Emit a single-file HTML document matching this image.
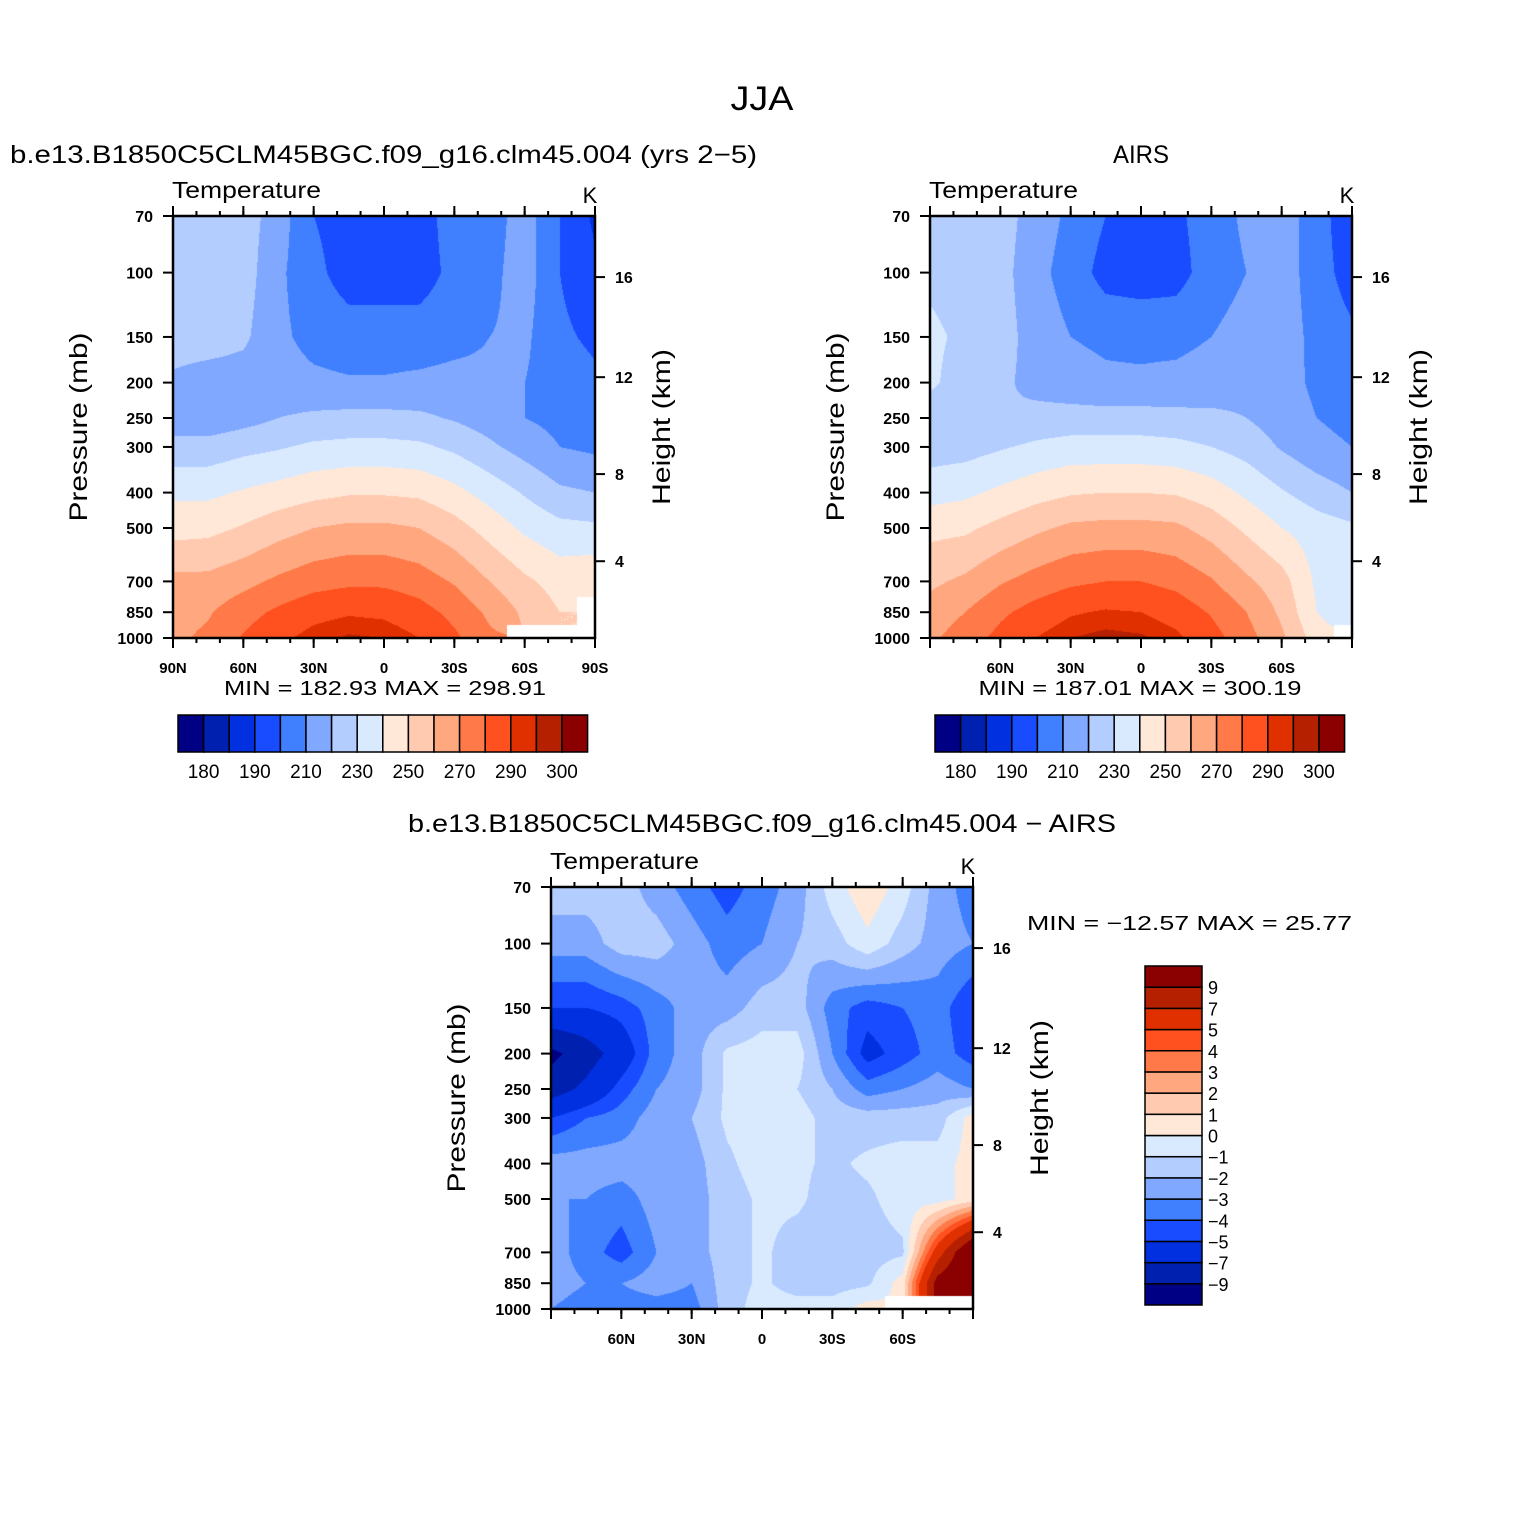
<!DOCTYPE html>
<html><head><meta charset="utf-8">
<style>
body{margin:0;background:#fff;width:1524px;height:1524px;overflow:hidden;position:relative;font-family:"Liberation Sans",sans-serif}
canvas{position:absolute}
svg{position:absolute;left:0;top:0}
</style></head>
<body>
<canvas id="c1" width="422" height="422" style="left:173px;top:216px"></canvas>
<canvas id="c2" width="422" height="422" style="left:930px;top:216px"></canvas>
<canvas id="c3" width="422" height="422" style="left:551px;top:887px"></canvas>
<svg id="ov" width="1524" height="1524"></svg>
<script>
const lats=[90,75,60,45,30,15,0,-15,-30,-45,-60,-75,-90];
const pres=[70,100,150,200,250,300,400,500,700,850,1000];
const tempLevels=[180,185,190,200,210,220,230,240,250,260,270,280,290,295,300];
const tempTickLabels=["180","190","210","230","250","270","290","300"];
const diffLevels=[-9,-7,-5,-4,-3,-2,-1,0,1,2,3,4,5,7,9];
const colors=["#000084","#0020b0","#0030e0","#1a4cff","#4080ff","#80a8ff","#b3cdff","#d9eaff","#ffe8d8","#ffcab0","#ffa880","#ff7a48","#ff5020","#e03000","#b42000","#8b0000"];
const N=NaN;
const model=[
[225,225,225,215,200,195,195,195,205,205,215,200,188],
[225,225,225,212,203,195,195,195,203,207,215,200,192],
[225,225,222,212,207,205,205,205,207,210,212,202,198],
[218,215,215,214,212,211,211,212,213,212,210,205,202],
[213,213,216,220,222,223,223,222,219,215,210,207,205],
[224,224,227,229,232,233,233,232,228,222,216,210,208],
[238,238,241,244,247,249,249,248,243,236,229,222,220],
[246,247,251,256,260,262,262,260,254,246,238,233,232],
[263,263,267,272,276,278,278,275,269,260,252,246,248],
[266,269,276,282,287,289,288,284,277,268,258,250,N],
[268,272,281,288,293,296,295,290,282,272,N,N,N]];
const airs=[
[226,226,225,215,208,200,196,198,205,212,215,205,192],
[228,226,224,213,206,196,195,196,205,210,215,205,195],
[232,228,225,215,210,208,207,207,210,214,215,207,202],
[232,225,222,217,214,212,212,213,215,217,214,208,205],
[224,220,220,223,224,224,224,223,222,220,215,210,207],
[225,226,229,232,234,234,234,233,230,226,219,213,210],
[236,238,242,246,249,250,250,249,245,238,231,225,220],
[247,248,253,258,262,263,263,262,256,248,240,235,232],
[258,262,269,274,278,280,280,277,271,262,254,238,235],
[264,270,278,284,289,291,290,286,279,270,258,240,232],
[268,275,283,290,295,297,296,292,284,274,262,245,N]];
const diff=[
[-1.5,-1.5,-1.5,-2.5,-3.5,-4.5,-3.5,-2.5,-0.5,0.8,-0.5,-2.5,-3.5],
[-2.5,-2.5,-1.5,-1.5,-2.5,-3.5,-3,-2,-1.5,-0.3,-1.5,-2.5,-3],
[-5,-5,-4.5,-3.5,-2.5,-2.5,-1.5,-1.5,-3.5,-4.5,-4,-3.5,-5],
[-9.5,-8,-6,-3.5,-2.5,-0.8,-0.5,-0.5,-3,-5.5,-4.5,-3.5,-4.5],
[-8,-6.5,-4.5,-3,-2.5,-0.8,-0.5,-1,-2,-3.5,-3,-2.5,-3],
[-5,-4,-3.5,-2.5,-2,-0.8,-0.5,-0.5,-1.5,-1.5,-1.5,-1.5,0.5],
[-2.5,-2.5,-2.5,-2.5,-2.5,-1.2,-0.5,-0.8,-1.2,-0.8,-0.5,-0.5,0.5],
[-3,-3,-3.5,-2.5,-2.5,-1.5,-0.8,-0.8,-1.5,-1.2,-0.5,-0.5,0.5],
[-2.5,-3.5,-4.5,-3,-2.5,-1.5,-0.8,-1.5,-1.5,-1.5,-1.2,6,12],
[-2.5,-3,-3,-2.5,-3,-1.5,-0.8,-1.5,-1.5,-1.2,0.5,10,12],
[-3,-3.5,-3.5,-3.5,-3.5,-1.5,-0.5,-0.5,-0.5,0.5,N,N,N]];
const latTicks=[90,60,30,0,-30,-60,-90];
const heightTicks=[4,8,12,16];

const W=422,H=422,LN=Math.log(1000/70);
function yOfP(p){return H-Math.log(1000/p)/LN*H;}
function xOfLat(l){return (90-l)/180*W;}
function pOfZ(km){const z=km*1000;return z<=11000?1013.25*Math.pow(1-2.2558e-5*z,5.256):226.3*Math.exp(-(z-11000)/6341.6);}
function colorOf(v,lev){let i=0;while(i<lev.length&&v>=lev[i])i++;return colors[i];}
function hex(c){return [parseInt(c.substr(1,2),16),parseInt(c.substr(3,2),16),parseInt(c.substr(5,2),16)];}
const lnp=pres.map(p=>Math.log(p));
function drawField(id,grid,lev){
  const ctx=document.getElementById(id).getContext('2d');
  const img=ctx.createImageData(W,H);
  for(let py=0;py<H;py++){
    const lp=Math.log(1000)-(H-py-0.5)/H*LN;
    let j=0;while(j<pres.length-2&&lp>lnp[j+1])j++;
    let t=(lp-lnp[j])/(lnp[j+1]-lnp[j]);t=Math.max(0,Math.min(1,t));
    for(let px=0;px<W;px++){
      const lat=90-(px+0.5)/W*180;
      let f=(90-lat)/15;let i=Math.min(11,Math.floor(f));let s=f-i;
      const ni=s<0.5?i:i+1,nj=t<0.5?j:j+1;
      let rgb=[255,255,255];
      if(!isNaN(grid[nj][ni])){
        const cs=[[grid[j][i],(1-s)*(1-t)],[grid[j][i+1],s*(1-t)],[grid[j+1][i],(1-s)*t],[grid[j+1][i+1],s*t]];
        let sw=0,sv=0;cs.forEach(c=>{if(!isNaN(c[0])){sw+=c[1];sv+=c[0]*c[1];}});
        rgb=hex(colorOf(sv/sw,lev));
      }
      const k=(py*W+px)*4;img.data[k]=rgb[0];img.data[k+1]=rgb[1];img.data[k+2]=rgb[2];img.data[k+3]=255;
    }
  }
  ctx.putImageData(img,0,0);
}
drawField('c1',model,tempLevels);
drawField('c2',airs,tempLevels);
drawField('c3',diff,diffLevels);

const NS="http://www.w3.org/2000/svg",ov=document.getElementById('ov');
function el(tag,attrs,parent){const e=document.createElementNS(NS,tag);for(const k in attrs)e.setAttribute(k,attrs[k]);(parent||ov).appendChild(e);return e;}
function txt(x,y,s,size,anchor,name,extra){const e=el('text',Object.assign({x:x,y:y,'font-size':size,'text-anchor':anchor||'start','font-family':'Liberation Sans, sans-serif',fill:'#000'},extra||{}));e.textContent=s;


return e;}
function latLabel(l){return l===0?"0":Math.abs(l)+(l>0?"N":"S");}
function axes(ox,oy,showPoles,pref){
  const g=el('g',{});
  
  
  el('rect',{x:ox,y:oy,width:W,height:H,fill:'none',stroke:'#000','stroke-width':2.5},g);
  for(let l=-80;l<=80;l+=10){const x=ox+xOfLat(l);
    el('line',{x1:x,y1:oy,x2:x,y2:oy-5,stroke:'#000','stroke-width':2},g);
    el('line',{x1:x,y1:oy+H,x2:x,y2:oy+H+5,stroke:'#000','stroke-width':2},g);}
  latTicks.forEach(l=>{const x=ox+xOfLat(l);
    el('line',{x1:x,y1:oy,x2:x,y2:oy-10,stroke:'#000','stroke-width':2},g);
    el('line',{x1:x,y1:oy+H,x2:x,y2:oy+H+10,stroke:'#000','stroke-width':2},g);
    if(showPoles||Math.abs(l)!==90)txt(x,oy+H+35,latLabel(l),15,'middle','lat-tick-label',{'font-weight':'bold'});});
  pres.forEach(p=>{const y=oy+yOfP(p);
    el('line',{x1:ox,y1:y,x2:ox-10,y2:y,stroke:'#000','stroke-width':2},g);
    txt(ox-20,y+6,String(p),16,'end','pressure-tick-label',{'font-weight':'bold'});});
  heightTicks.forEach(z=>{const y=oy+yOfP(pOfZ(z));
    el('line',{x1:ox+W,y1:y,x2:ox+W+10,y2:y,stroke:'#000','stroke-width':2},g);
    txt(ox+W+20,y+6,String(z),16,'start','height-tick-label',{'font-weight':'bold'});});
  txt(ox-1,oy-18,"Temperature",23,'start','panel-variable-label',{textLength:149,lengthAdjust:'spacingAndGlyphs'});
  txt(ox+W-5,oy-13,"K",22,'middle','units-label');
  txt(0,0,"Pressure (mb)",25,'middle','y-axis-title',{transform:`translate(${ox-86},${oy+211}) rotate(-90)`,textLength:189,lengthAdjust:'spacingAndGlyphs'});
  txt(0,0,"Height (km)",25,'middle','y2-axis-title',{transform:`translate(${ox+W+75},${oy+211}) rotate(-90)`,textLength:156,lengthAdjust:'spacingAndGlyphs'});
}
axes(173,216,true,'model');
axes(930,216,false,'airs');
axes(551,887,false,'diff');
function hbar(x0,y0,pref){
  const bw=25.6;
  colors.forEach((c,i)=>{const r=el('rect',{x:x0+i*bw,y:y0,width:bw,height:37,fill:c,stroke:'#000','stroke-width':1.5});
    
    });
  tempTickLabels.forEach((s,k)=>txt(x0+(2*k+1)*bw,y0+63,s,19,'middle','colorbar-label'));
}
hbar(178,715,'model');hbar(935,715,'airs');
const vb=339/16;
colors.forEach((c,i)=>{const r=el('rect',{x:1145,y:966+(15-i)*vb,width:57,height:vb,fill:c,stroke:'#000','stroke-width':1.5});
  
  });
diffLevels.forEach((v,i)=>txt(1208,966+(15-i)*vb+7,(v<0?"\u2212":"")+Math.abs(v),18,'start','diff-colorbar-label'));
txt(762,110,"JJA",34,'middle','main-title',{textLength:63,lengthAdjust:'spacingAndGlyphs'});
txt(10,163,"b.e13.B1850C5CLM45BGC.f09_g16.clm45.004 (yrs 2\u22125)",25,'start','model-panel-title',{textLength:747,lengthAdjust:'spacingAndGlyphs'});
txt(1141,163,"AIRS",25,'middle','airs-panel-title',{textLength:56,lengthAdjust:'spacingAndGlyphs'});
txt(762,832,"b.e13.B1850C5CLM45BGC.f09_g16.clm45.004 \u2212 AIRS",25,'middle','diff-panel-title',{textLength:708,lengthAdjust:'spacingAndGlyphs'});
txt(385,695,"MIN = 182.93   MAX = 298.91",20,'middle','model-minmax',{'xml:space':'preserve',textLength:322,lengthAdjust:'spacingAndGlyphs'});
txt(1140,695,"MIN = 187.01   MAX = 300.19",20,'middle','airs-minmax',{'xml:space':'preserve',textLength:323,lengthAdjust:'spacingAndGlyphs'});
txt(1027,930,"MIN = \u221212.57   MAX =   25.77",20,'start','diff-minmax',{'xml:space':'preserve',textLength:325,lengthAdjust:'spacingAndGlyphs'});
</script>
</body></html>
